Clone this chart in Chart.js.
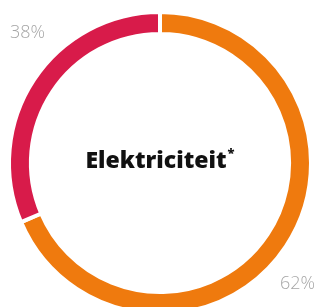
<!DOCTYPE html>
<html>
<head>
<meta charset="utf-8">
<script src="https://cdn.jsdelivr.net/npm/chart.js@4"></script>
<style>
  html, body { margin: 0; padding: 0; background: #fff; overflow: hidden; }
  #wrap { position: relative; width: 320px; height: 326px; }
</style>
</head>
<body>
<div id="wrap"><canvas id="energyChart"></canvas></div>
<script>
// --- Data ---
const categories = ['Oranje', 'Rood'];
const shares = [68.6, 31.4];
const shareLabels = ['62%', '38%'];
const sliceColors = ['#EF7A0E', '#D81B4A'];
const centerTitle = 'Elektriciteit';

// --- tekst in het midden + percentages ---
const textPlugin = {
    id: 'textPlugin',
    afterDraw(chart) {
        const ctx = chart.ctx;
        const meta = chart.getDatasetMeta(0);
        const cx = meta.data[0].x;
        const cy = meta.data[0].y;
        ctx.save();
        ctx.fillStyle = '#111';
        ctx.font = "800 23px 'Open Sans', sans-serif";
        ctx.textBaseline = 'alphabetic';
        const w = ctx.measureText(centerTitle).width;
        const x0 = cx - (w + 8) / 2;
        ctx.textAlign = 'left';
        ctx.fillText(centerTitle, x0, cy + 5);
        ctx.font = "800 13px 'Open Sans', sans-serif";
        ctx.fillText('*', x0 + w + 1, cy - 6);

        ctx.fillStyle = '#a6a6a6';
        ctx.font = "300 18px 'Open Sans', sans-serif";
        ctx.textAlign = 'left';
        ctx.fillText(shareLabels[1], 10, 38);
        ctx.textAlign = 'right';
        ctx.fillText(shareLabels[0], 315, 289);
        ctx.restore();
    }
};

const ctx1 = document.getElementById('energyChart').getContext('2d');
new Chart(ctx1, {
    type: 'doughnut',
    data: {
        labels: categories,
        datasets: [{
            data: shares,
            backgroundColor: sliceColors,
            borderColor: '#ffffff',
            borderWidth: 4,
            hoverOffset: 0
        }]
    },
    options: {
        responsive: true,
        maintainAspectRatio: false,
        animation: false,
        radius: 151,
        cutout: '85.5%',
        layout: { padding: 0 },
        plugins: {
            legend: { display: false },
            tooltip: { enabled: false }
        }
    },
    plugins: [textPlugin]
});
</script>
</body>
</html>
